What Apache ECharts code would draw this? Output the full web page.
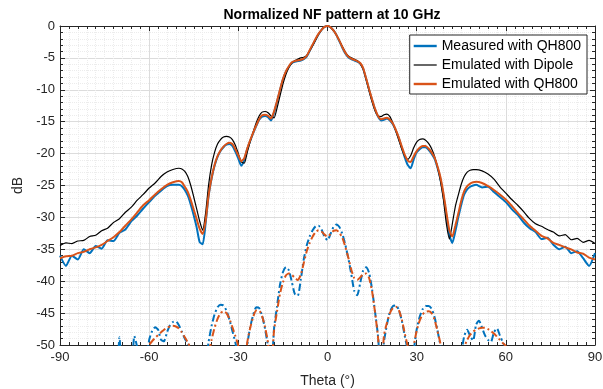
<!DOCTYPE html>
<html>
<head>
<meta charset="utf-8">
<script src="https://cdn.jsdelivr.net/npm/echarts@6/dist/echarts.min.js"></script>
<style>
  html, body { margin: 0; padding: 0; background: #fff; }
  #chart { width: 603px; height: 389px; }
</style>
</head>
<body>
<div id="chart"></div>
<script>
// angles (deg) for the co-pol curves: 2 deg steps outside +-50, 1 deg inside
const thetaMain = [
  -90, -88, -86, -84, -82, -80, -78, -76, -74, -72, -70, -68, -66, -64, -62, -60, -58, -56, -54, -52,
  -50, -49, -48, -47, -46, -45, -44, -43, -42, -41, -40, -39, -38, -37, -36, -35, -34, -33, -32, -31,
  -30, -29, -28, -27, -26, -25, -24, -23, -22, -21, -20, -19, -18, -17, -16, -15, -14, -13, -12, -11,
  -10, -9, -8, -7, -6, -5, -4, -3, -2, -1, 0, 1, 2, 3, 4, 5, 6, 7, 8, 9,
  10, 11, 12, 13, 14, 15, 16, 17, 18, 19, 20, 21, 22, 23, 24, 25, 26, 27, 28, 29,
  30, 31, 32, 33, 34, 35, 36, 37, 38, 39, 40, 41, 42, 43, 44, 45, 46, 47, 48, 49, 50,
  52, 54, 56, 58, 60, 62, 64, 66, 68, 70, 72, 74, 76, 78, 80, 82, 84, 86, 88, 90
];

// Measured with QH800 (co-pol)
const measured = [
  -36.0, -37.6, -36.0, -36.6, -35.0, -35.6, -34.5, -34.9, -33.6, -33.7, -32.4, -31.9, -30.6, -29.7, -28.6, -27.6, -26.6, -25.8, -25.1, -24.9,
  -24.9, -25.1, -25.7, -26.6, -28.0, -29.7, -31.6, -33.9, -34.2, -30.9, -26.6, -23.9, -21.9, -20.5, -19.6, -19.0, -18.6, -18.5, -18.8, -19.7,
  -20.8, -21.9, -21.0, -19.3, -18.0, -16.8, -15.7, -14.7, -14.2, -14.1, -14.3, -14.8, -13.6, -11.9, -10.1, -8.4, -7.2, -6.4, -5.8, -5.6,
  -5.5, -5.4, -5.2, -4.8, -3.9, -3.0, -2.1, -1.3, -0.6, -0.15, 0, -0.2, -0.7, -1.4, -2.4, -3.4, -4.3, -4.9, -5.2, -5.4,
  -5.6, -5.9, -6.7, -8.3, -10.0, -11.6, -13.1, -14.2, -14.8, -14.7, -14.5, -14.8, -15.4, -16.4, -17.6, -19.1, -20.6, -21.8, -22.3, -20.9,
  -19.8, -19.3, -19.0, -19.0, -19.4, -20.0, -20.8, -22.2, -24.0, -26.6, -29.8, -32.8, -34.0, -32.2, -30.0, -28.0, -26.4, -25.6, -25.2, -25.0, -24.9,
  -25.3, -25.2, -26.0, -26.8, -27.6, -28.7, -29.6, -30.8, -31.7, -32.3, -33.4, -33.2, -34.3, -35.0, -34.6, -35.6, -35.3, -36.4, -37.6, -35.6
];

// Emulated with Dipole (co-pol)
const emuDipole = [
  -34.4, -34.0, -34.1, -33.7, -33.6, -33.0, -32.8, -32.1, -31.7, -30.8, -30.2, -29.2, -28.4, -27.3, -26.4, -25.4, -24.6, -23.6, -22.9, -22.5,
  -22.3, -22.4, -22.8, -23.6, -25.0, -26.8, -28.7, -30.6, -32.0, -29.3, -24.9, -21.8, -19.8, -18.5, -17.8, -17.4, -17.3, -17.4, -17.8, -18.7,
  -20.0, -21.3, -21.5, -19.8, -18.1, -16.6, -15.2, -14.1, -13.5, -13.4, -13.6, -14.1, -14.4, -12.9, -11.0, -9.1, -7.6, -6.5, -5.8, -5.4,
  -5.2, -5.0, -4.9, -4.6, -3.9, -3.1, -2.2, -1.3, -0.6, -0.15, 0, -0.2, -0.7, -1.4, -2.3, -3.2, -4.1, -4.7, -5.0, -5.2,
  -5.4, -5.9, -6.8, -8.4, -10.2, -11.9, -13.3, -14.1, -14.2, -13.9, -13.8, -14.2, -15.2, -16.5, -17.9, -19.3, -20.4, -20.9, -20.3, -19.1,
  -18.2, -17.8, -17.7, -17.9, -18.4, -19.2, -20.4, -22.1, -24.3, -27.2, -31.0, -33.4, -31.0, -28.3, -26.5, -24.8, -23.6, -22.9, -22.6, -22.5, -22.5,
  -22.7, -23.2, -24.0, -25.2, -26.2, -27.2, -28.1, -29.1, -30.2, -31.0, -31.4, -31.9, -32.3, -32.9, -32.7, -33.5, -33.3, -33.9, -33.6, -34.1
];

// Emulated with QH800 (co-pol)
const emuQh800 = [
  -36.4, -36.1, -36.0, -35.6, -35.4, -35.0, -34.7, -34.3, -33.7, -33.1, -32.3, -31.3, -30.3, -29.2, -28.1, -27.3, -26.4, -25.6, -24.9, -24.5,
  -24.3, -24.5, -25.2, -26.0, -27.3, -28.8, -30.3, -31.8, -32.6, -30.5, -26.5, -23.8, -21.8, -20.4, -19.5, -18.9, -18.5, -18.3, -18.5, -19.3,
  -20.3, -21.2, -20.7, -19.2, -17.9, -16.7, -15.6, -14.6, -14.0, -13.9, -14.1, -14.5, -13.4, -11.8, -10.0, -8.3, -7.1, -6.3, -5.7, -5.5,
  -5.4, -5.3, -5.1, -4.7, -3.8, -2.9, -2.0, -1.2, -0.6, -0.15, 0, -0.2, -0.7, -1.4, -2.3, -3.3, -4.2, -4.8, -5.1, -5.3,
  -5.5, -5.8, -6.6, -8.2, -9.9, -11.5, -13.0, -14.1, -14.6, -14.5, -14.4, -14.7, -15.3, -16.3, -17.5, -18.9, -20.2, -21.1, -21.3, -20.4,
  -19.6, -19.1, -18.8, -18.8, -19.2, -19.8, -20.6, -22.0, -23.7, -26.2, -29.2, -32.0, -33.0, -31.3, -29.4, -27.4, -25.9, -25.1, -24.7, -24.5, -24.4,
  -24.6, -25.1, -25.7, -26.4, -27.2, -28.2, -29.3, -30.3, -31.3, -32.1, -32.9, -33.3, -34.0, -34.3, -34.7, -35.0, -35.5, -35.7, -36.3, -36.6
];

// angles (deg) for the cross-pol curves, 1 deg steps
const thetaX = [
  -72, -71, -70, -69, -68, -67, -66, -65, -64, -63, -62, -61, -60, -59, -58, -57, -56, -55, -54, -53,
  -52, -51, -50, -49, -48, -47, -46, -45, -44, -43, -42, -41, -40, -39, -38, -37, -36, -35, -34, -33,
  -32, -31, -30, -29, -28, -27, -26, -25, -24, -23, -22, -21, -20, -19, -18, -17, -16, -15, -14, -13,
  -12, -11, -10, -9, -8, -7, -6, -5, -4, -3, -2, -1, 0, 1, 2, 3, 4, 5, 6, 7,
  8, 9, 10, 11, 12, 13, 14, 15, 16, 17, 18, 19, 20, 21, 22, 23, 24, 25, 26, 27,
  28, 29, 30, 31, 32, 33, 34, 35, 36, 37, 38, 39, 40, 41, 42, 43, 44, 45, 46, 47,
  48, 49, 50, 51, 52, 53, 54, 55, 56, 57, 58, 59, 60, 61, 62
];

// Measured with QH800 (cross-pol, dashed)
const measuredX = [
  -60, -58, -48.8, -56, -60, -60, -56, -48.6, -50.5, -57, -60, -53, -49.2, -47.8, -47.2, -47.6, -49.2, -49.4, -48.0, -46.9,
  -46.4, -46.3, -46.9, -47.9, -49.0, -49.8, -50.5, -52, -57, -60, -58, -53, -49.5, -47.0, -45.2, -44.1, -43.7, -43.8, -44.6, -46.0,
  -47.8, -49.6, -52, -56, -56, -50, -47.2, -45.3, -44.1, -44.2, -45.4, -47.5, -50.3, -55, -47.5, -44.0, -40.6, -38.6, -37.8, -38.3,
  -40.1, -42.0, -42.3, -39.8, -36.6, -34.4, -33.0, -32.0, -31.4, -31.3, -31.9, -33.0, -33.6, -32.6, -31.5, -31.1, -31.5, -32.6, -34.3, -36.4,
  -38.9, -41.5, -42.2, -40.3, -38.3, -37.8, -38.7, -41.3, -44.8, -48.6, -55, -49.5, -46.8, -44.8, -43.9, -43.8, -44.5, -46.2, -48.6, -51,
  -57, -51, -47.6, -45.6, -44.4, -43.9, -43.9, -44.3, -45.6, -47.7, -50.2, -54, -58, -60, -60, -60, -57, -51.5, -48.6, -47.6,
  -48.6, -49.3, -46.8, -46.2, -47.3, -48.5, -49.2, -49.5, -48.0, -47.4, -48.5, -49.6, -50.5, -53, -57
];

// Emulated with QH800 (cross-pol, dashed)
const emuQh800X = [
  -60, -60, -60, -60, -60, -60, -60, -60, -60, -58, -55, -51.2, -50.0, -49.4, -48.9, -48.4, -48.0, -47.6, -47.3, -47.1,
  -47.0, -47.1, -47.4, -48.0, -48.8, -49.6, -50.6, -53, -57, -60, -58, -54, -51.5, -49.2, -47.3, -45.9, -45.0, -44.7, -45.0, -45.9,
  -47.2, -48.6, -50.2, -54, -54, -49.6, -47.3, -45.6, -44.6, -44.6, -45.5, -47.2, -49.7, -54, -47.8, -44.8, -42.0, -40.2, -39.1, -38.8,
  -39.0, -39.5, -39.8, -39.0, -37.2, -35.3, -34.0, -33.0, -32.3, -32.0, -32.2, -32.7, -33.0, -32.6, -32.1, -32.0, -32.4, -33.2, -34.6, -36.3,
  -38.2, -39.5, -39.8, -39.4, -38.9, -38.8, -39.5, -41.6, -44.9, -48.8, -55, -48.5, -46.5, -45.0, -44.2, -44.0, -44.5, -46.0, -48.2, -50.3,
  -56, -50.2, -47.8, -46.2, -45.2, -44.8, -44.7, -45.0, -46.0, -47.8, -49.8, -53, -57, -60, -60, -60, -58, -54, -50.4, -49.2,
  -48.4, -47.9, -47.6, -47.4, -47.3, -47.3, -47.5, -47.8, -48.2, -48.7, -49.2, -49.7, -50.2, -52, -56
];

const legendNames = ["Measured with QH800", "Emulated with Dipole", "Emulated with QH800"];

const BLUE = "#0072BD";
const ORANGE = "#D95319";
const BLACK = "#000000";
const AXIS = "#262626";
const FONT = "Arial, 'Liberation Sans', sans-serif";

// legend icons: plain line strokes, thick for the QH800 curves, thin for the dipole
const THICK_ICON = "path://M0,0h23v2.4h-23z";
const THIN_ICON = "path://M0,0h23v1.2h-23z";

const pairs = (xs, ys) => xs.map((x, i) => [x, ys[i]]);

const chart = echarts.init(document.getElementById("chart"));

const axisCommon = {
  type: "value",
  axisLine: { show: true, onZero: false, lineStyle: { color: AXIS, width: 1 } },
  axisTick: { show: true, inside: true, length: 5, lineStyle: { color: AXIS } },
  minorTick: { show: true, length: 3, lineStyle: { color: AXIS } },
};

const lineSeries = (name, xs, ys, color, width, dashed, z) => ({
  name: name,
  type: "line",
  data: pairs(xs, ys),
  xAxisIndex: 0,
  yAxisIndex: 0,
  symbol: "none",
  showSymbol: false,
  smooth: 0.2,
  clip: true,
  z: z,
  itemStyle: { color: color },
  lineStyle: dashed
    ? { color: color, width: width, type: [7, 3, 2, 3] }
    : { color: color, width: width },
});

chart.setOption({
  animation: false,
  textStyle: { fontFamily: FONT },
  title: {
    text: "Normalized NF pattern at 10 GHz",
    left: 327,
    top: 3,
    textAlign: "center",
    textStyle: { fontSize: 14, fontWeight: "bold", color: "#000", fontFamily: FONT },
  },
  grid: { left: 60, right: 8, top: 26, bottom: 44, containLabel: false, outerBoundsMode: "none" },
  legend: {
    data: [
      { name: legendNames[0], icon: THICK_ICON },
      { name: legendNames[1], icon: THIN_ICON },
      { name: legendNames[2], icon: THICK_ICON },
    ],
    orient: "vertical",
    right: 16,
    top: 35,
    itemWidth: 23,
    itemHeight: 14,
    itemGap: 5,
    padding: [4, 6, 3, 4],
    backgroundColor: "#fff",
    borderColor: AXIS,
    borderWidth: 1,
    textStyle: { fontSize: 14, color: "#000", fontFamily: FONT },
  },
  xAxis: [
    Object.assign({}, axisCommon, {
      min: -90, max: 90, interval: 30,
      position: "bottom",
      minorTick: Object.assign({}, axisCommon.minorTick, { splitNumber: 10 }),
      axisLabel: { color: AXIS, fontSize: 13, margin: 6, fontFamily: FONT },
      splitLine: { show: true, lineStyle: { color: "#dcdcdc" } },
      minorSplitLine: { show: true, lineStyle: { color: "#ececec", type: "dotted" } },
      name: "Theta (°)",
      nameLocation: "middle",
      nameGap: 29,
      nameTextStyle: { fontSize: 14, color: AXIS, fontFamily: FONT },
    }),
    Object.assign({}, axisCommon, {
      min: -90, max: 90, interval: 30,
      position: "top",
      minorTick: Object.assign({}, axisCommon.minorTick, { splitNumber: 10 }),
      axisLabel: { show: false },
      splitLine: { show: false },
    }),
  ],
  yAxis: [
    Object.assign({}, axisCommon, {
      min: -50, max: 0, interval: 5,
      position: "left",
      minorTick: Object.assign({}, axisCommon.minorTick, { splitNumber: 5 }),
      axisLabel: { color: AXIS, fontSize: 13, margin: 5, fontFamily: FONT },
      splitLine: { show: true, lineStyle: { color: "#dcdcdc" } },
      minorSplitLine: { show: true, lineStyle: { color: "#ececec", type: "dotted" } },
      name: "dB",
      nameLocation: "middle",
      nameGap: 31,
      nameTextStyle: { fontSize: 14, color: AXIS, fontFamily: FONT },
    }),
    Object.assign({}, axisCommon, {
      min: -50, max: 0, interval: 5,
      position: "right",
      minorTick: Object.assign({}, axisCommon.minorTick, { splitNumber: 5 }),
      axisLabel: { show: false },
      splitLine: { show: false },
    }),
  ],
  series: [
    lineSeries(legendNames[0], thetaMain, measured, BLUE, 2, false, 3),
    lineSeries(legendNames[1], thetaMain, emuDipole, BLACK, 1.2, false, 4),
    lineSeries(legendNames[2], thetaMain, emuQh800, ORANGE, 2, false, 5),
    lineSeries("Measured with QH800 (cross)", thetaX, measuredX, BLUE, 2, true, 3),
    lineSeries("Emulated with QH800 (cross)", thetaX, emuQh800X, ORANGE, 2, true, 5),
  ],
});
</script>
</body>
</html>
